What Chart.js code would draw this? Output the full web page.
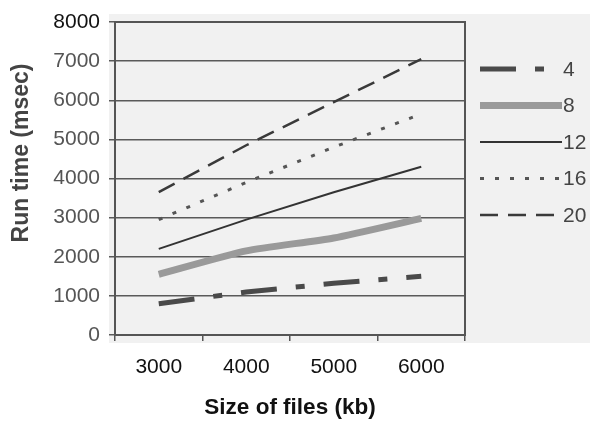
<!DOCTYPE html>
<html>
<head>
<meta charset="utf-8">
<script src="https://cdn.jsdelivr.net/npm/chart.js@4/dist/chart.umd.min.js"></script>
<style>
  body { margin: 0; background: #fff; }
  canvas { display: block; }
</style>
</head>
<body>
<canvas id="myChart" width="590" height="421"></canvas>
<script>
// data
const sizes = ['3000', '4000', '5000', '6000'];
const labels = ['4', '8', '12', '16', '20'];
const run4 = [800, 1100, 1320, 1500];
const run8 = [1550, 2150, 2480, 2980];
const run12 = [2200, 2950, 3650, 4300];
const run16 = [2950, 3900, 4800, 5650];
const run20 = [3650, 4850, 5950, 7050];
const yTicks = [0, 1000, 2000, 3000, 4000, 5000, 6000, 7000, 8000];

const font = 'Liberation Sans';

// grey scanned paper behind the plot + frame
const paper = {
  id: 'paper',
  beforeDraw(chart) {
    const {ctx, chartArea: {top, bottom, left}} = chart;
    ctx.save();
    ctx.fillStyle = '#f1f1f1';
    ctx.fillRect(left - 6, top - 8, chart.width - left + 6, bottom - top + 16);
    ctx.restore();
  },
  afterDatasetsDraw(chart) {
    const {ctx, chartArea: {top, right, bottom, left}} = chart;
    ctx.save();
    ctx.strokeStyle = '#555';
    ctx.lineWidth = 2;
    ctx.strokeRect(left, top, right - left, bottom - top);
    // y axis title, sits a bit above the middle in the original
    ctx.translate(22, 153);
    ctx.rotate(-Math.PI / 2);
    ctx.fillStyle = '#444';
    ctx.font = 'bold 23px ' + font;
    ctx.textAlign = 'center';
    ctx.textBaseline = 'middle';
    ctx.fillText('Run time (msec)', 0, 0);
    ctx.restore();
  }
};

// legend drawn by hand to the right of the plot
const sideLegend = {
  id: 'sideLegend',
  afterDraw(chart) {
    const {ctx} = chart;
    ctx.save();
    chart.data.datasets.forEach((ds, i) => {
      const y = 69 + i * 36.5;
      ctx.beginPath();
      ctx.strokeStyle = ds.borderColor;
      ctx.lineWidth = ds.borderWidth;
      ctx.setLineDash(ds.borderDash || []);
      ctx.moveTo(480, y);
      ctx.lineTo(562, y);
      ctx.stroke();
      ctx.setLineDash([]);
      ctx.fillStyle = '#444';
      ctx.font = '21px ' + font;
      ctx.textBaseline = 'middle';
      ctx.fillText(ds.label, 563, y + 1);
    });
    ctx.restore();
  }
};

const ctx = document.getElementById('myChart').getContext('2d');
new Chart(ctx, {
  type: 'line',
  data: {
    labels: sizes,
    datasets: [
      { label: labels[0], data: run4, borderColor: '#4a4a4a', borderWidth: 5, borderDash: [36, 19, 9, 19] },
      { label: labels[1], data: run8, borderColor: '#9a9a9a', borderWidth: 7, tension: 0.2 },
      { label: labels[2], data: run12, borderColor: '#333', borderWidth: 2 },
      { label: labels[3], data: run16, borderColor: '#555', borderWidth: 3, borderDash: [4, 11] },
      { label: labels[4], data: run20, borderColor: '#3a3a3a', borderWidth: 2.5, borderDash: [18, 10] }
    ]
  },
  plugins: [paper, sideLegend],
  options: {
    responsive: false,
    animation: false,
    elements: { point: { radius: 0 }, line: { fill: false, borderCapStyle: 'butt' } },
    layout: { padding: { top: 22, right: 125, left: 0, bottom: 0 } },
    plugins: { legend: { display: false }, tooltip: { enabled: false } },
    scales: {
      x: {
        offset: true,
        grid: { offset: true, drawOnChartArea: false, color: '#555', lineWidth: 1.5, tickLength: 6 },
        border: { color: '#555', width: 2 },
        ticks: { color: '#111', padding: 14, font: { family: font, size: 21 } },
        title: { display: true, text: 'Size of files (kb)', color: '#111', padding: 0, font: { family: font, size: 22.5, weight: 'bold' } },
        afterFit(scale) { scale.height = 86; }
      },
      y: {
        min: 0,
        max: 8000,
        afterBuildTicks(scale) { scale.ticks = yTicks.map(v => ({ value: v })); },
        grid: { color: '#5a5a5a', lineWidth: 1.5, tickLength: 6 },
        border: { color: '#555', width: 2 },
        ticks: {
          padding: 9,
          callback: v => String(v),
          color: c => (c.tick && c.tick.value === 8000 ? '#111' : '#555'),
          font: { family: font, size: 21 }
        },
        afterFit(scale) { scale.width = 115; }
      }
    }
  }
});
</script>
</body>
</html>
